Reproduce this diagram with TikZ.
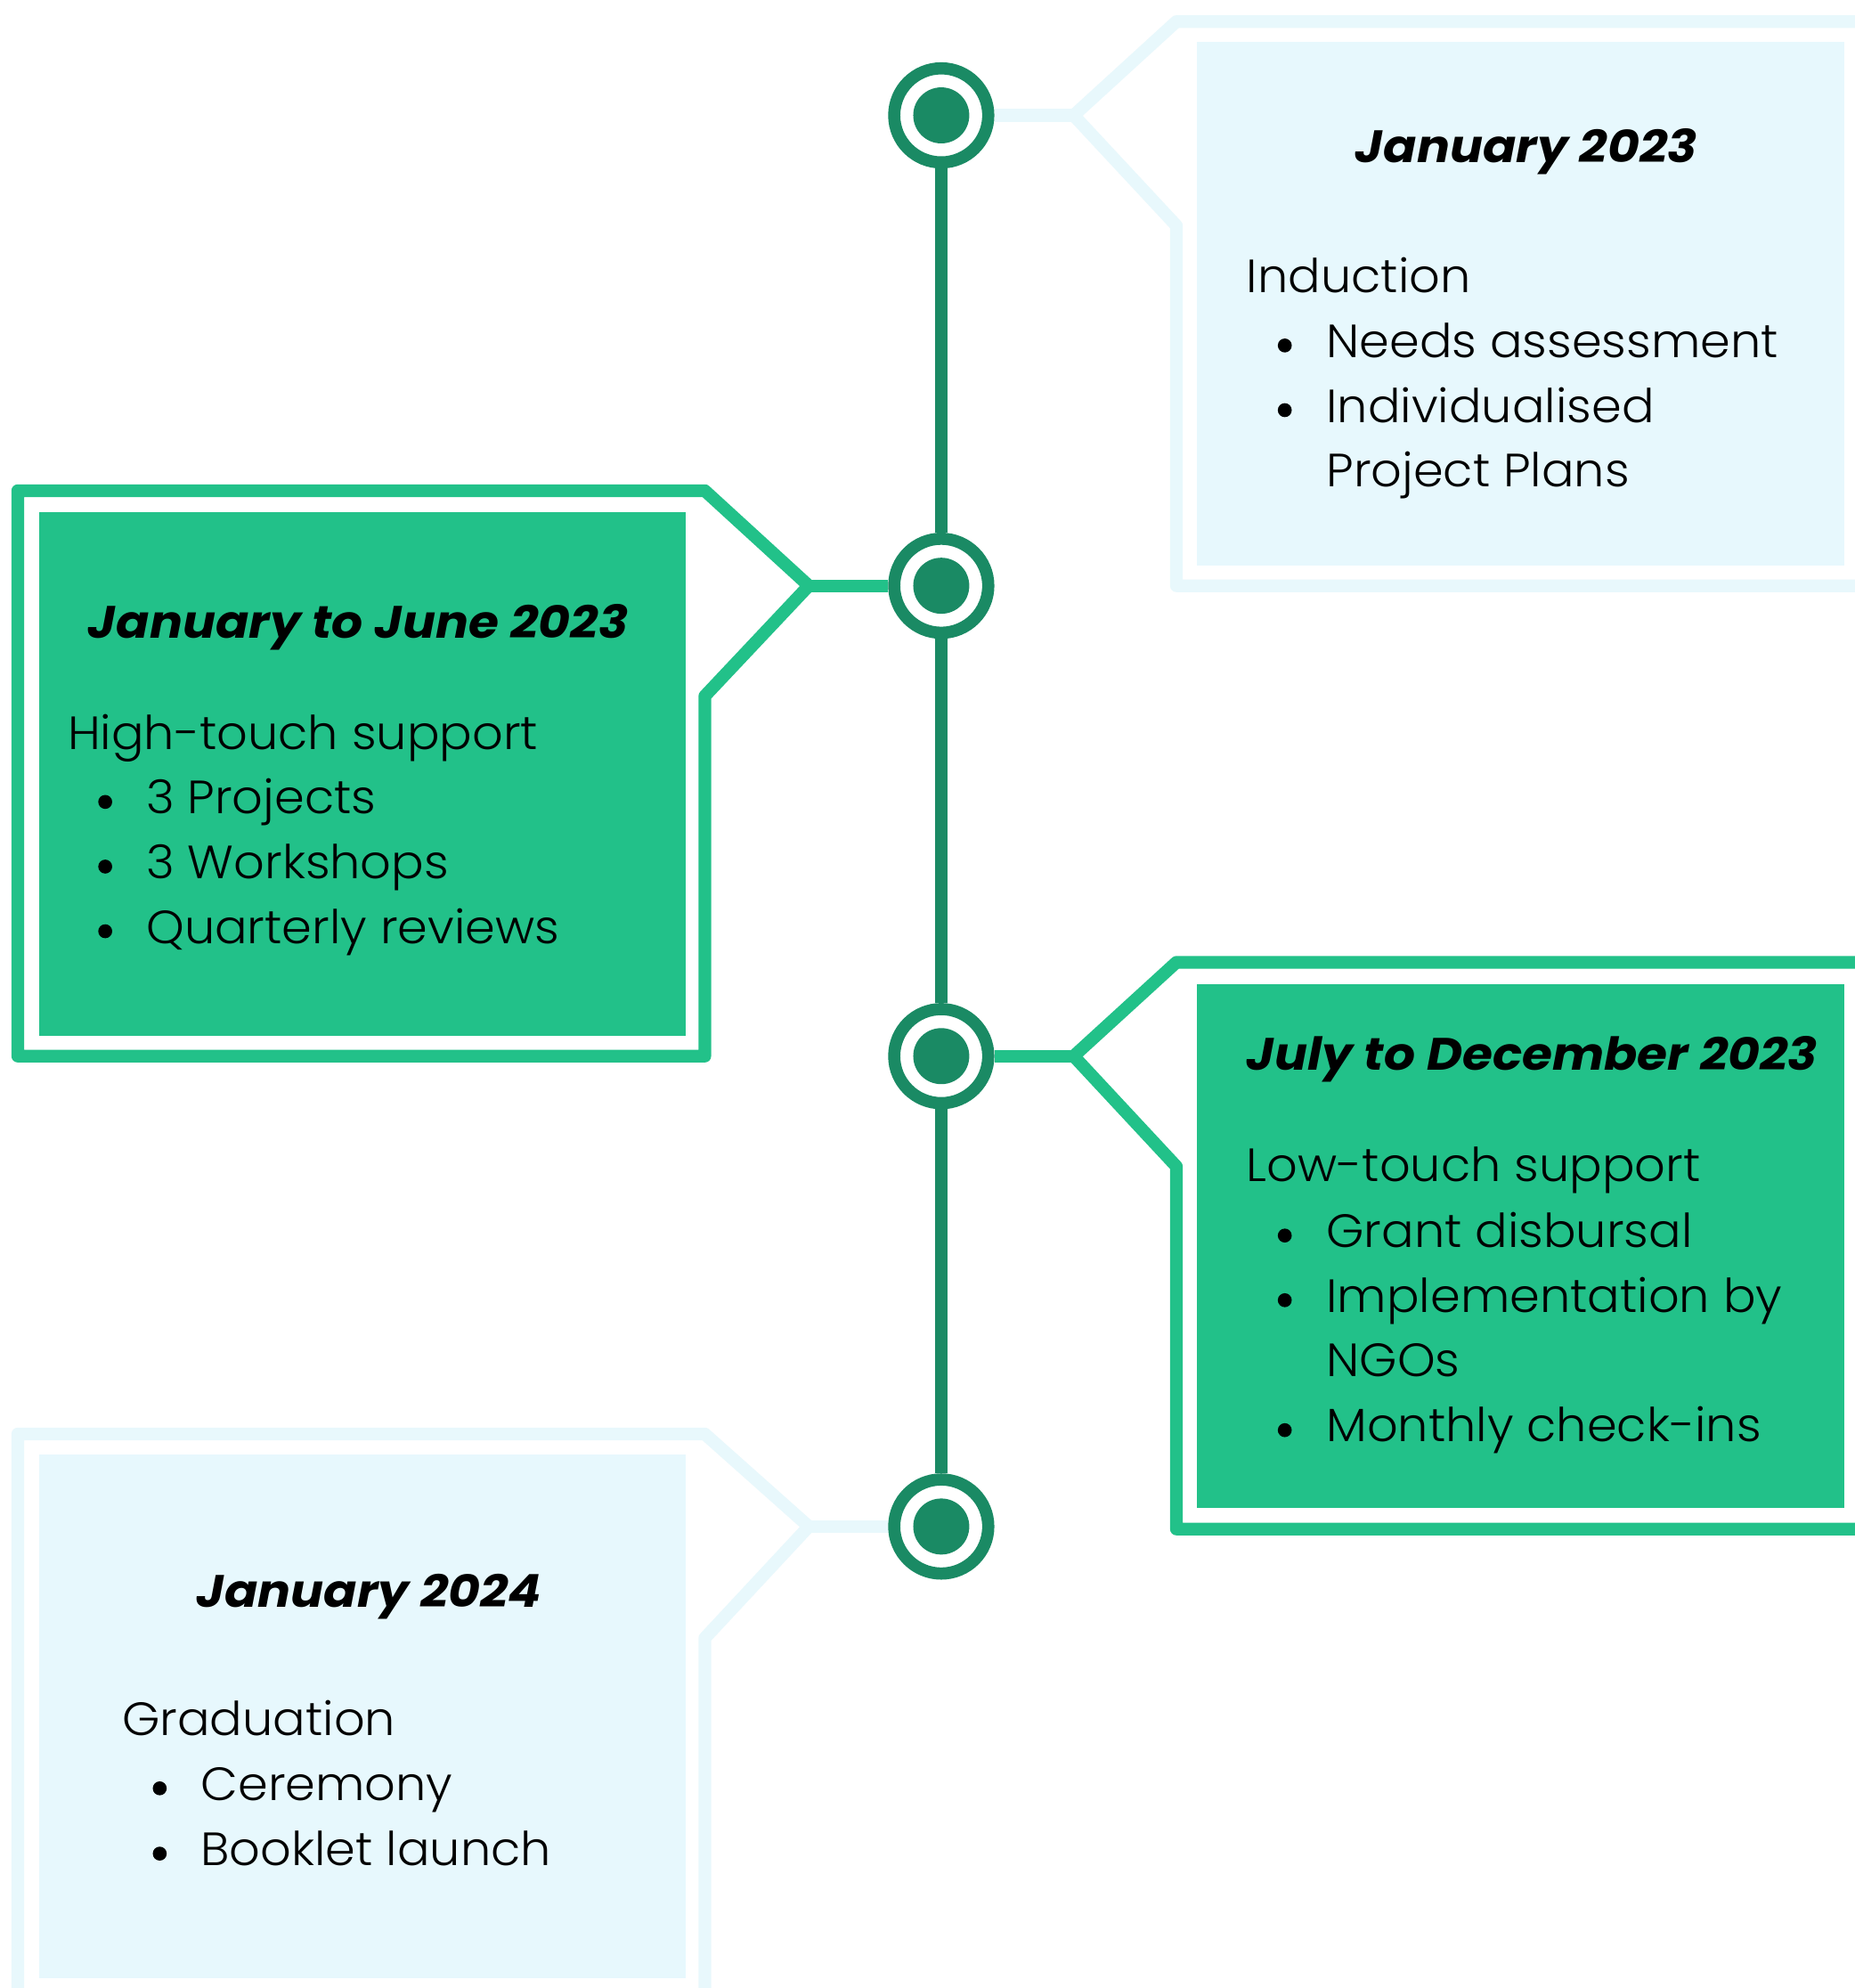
\documentclass[tikz,border=0pt]{standalone}
\usepackage{fontspec}
\setmainfont{Poppins}[BoldItalicFeatures={FakeStretch=1.08}]
\newfontfamily\bodyfont{Poppins Light}[FakeStretch=1.035]
\definecolor{dk}{RGB}{26,138,100}
\definecolor{gr}{RGB}{34,193,137}
\definecolor{lb}{RGB}{231,248,253}
\definecolor{lbf}{RGB}{232,248,252}
\pgfdeclarelayer{bg}
\pgfsetlayers{bg,main}
\tikzset{
  ring/.style={circle, draw=dk, fill=white, line width=4.8pt, minimum size=37.1pt, inner sep=0},
  dot/.style={circle, fill=dk, minimum size=22.1pt, inner sep=0},
  frame/.style={line width=5pt, line join=round},
  spine/.style={draw=dk, line width=4.8pt},
  ttl/.style={anchor=base, inner sep=0, font=\fontsize{17.9}{21}\selectfont\bfseries\itshape},
  txt/.style={anchor=base west, inner sep=0, font=\bodyfont\fontsize{18.4}{22}\selectfont},
  bul/.style={fill=black}
}
\begin{document}
\begin{tikzpicture}[x=0.5pt,y=-0.5pt]
\useasboundingbox (0,0) rectangle (1463,1568);
\clip (0,0) rectangle (1463,1568);
% milestones
\foreach \n/\y in {1/91,2/462,3/833,4/1204}{
  \node[ring] (c\n) at (742.5,\y) {};
  \node[dot] (d\n) at (742.5,\y) {};
}
\coordinate (p1) at (847,91);
\coordinate (p2) at (638,462);
\coordinate (p3) at (847,833);
\coordinate (p4) at (638,1204);

\begin{pgfonlayer}{bg}
\fill[white] (0,0) rectangle (1463,1568);
% box 1
\fill[lb] (944,33) rectangle (1455,446);
\draw[frame,draw=lbf] (1500,17) -- (928,17) -- (p1) -- (928,178) -- (928,462) -- (1500,462);
\draw[frame,draw=lbf] (c1) -- (p1);
% box 2
\fill[gr] (31,404) rectangle (541,817);
\draw[frame,draw=gr] (556,387) -- (14,387) -- (14,833) -- (556,833) -- (556,549) -- (p2) -- cycle;
\draw[frame,draw=gr] (c2) -- (p2);
% box 3
\fill[gr] (944,776) rectangle (1455,1189);
\draw[frame,draw=gr] (1500,759) -- (928,759) -- (p3) -- (928,920) -- (928,1206) -- (1500,1206);
\draw[frame,draw=gr] (c3) -- (p3);
% box 4
\fill[lb] (31,1147) rectangle (541,1560);
\draw[frame,draw=lbf] (14,1600) -- (14,1131) -- (556,1131) -- (p4) -- (556,1292) -- (556,1600);
\draw[frame,draw=lbf] (c4) -- (p4);
% spine
\draw[spine] (c1) -- (c2) -- (c3) -- (c4);
\end{pgfonlayer}

% box 1 text
\node[ttl] (t1) at (1204,128) {January 2023};
\node[txt] (t1a) at (983,231) {Induction};
\node[txt] (t1b) at (1046,282) {Needs assessment};
\node[txt] (t1c) at (1046,333) {Individualised};
\node[txt] (t1d) at (1046,384) {Project Plans};
\fill[bul] (1013.5,272.5) circle[radius=5.5];
\fill[bul] (1013.5,323.5) circle[radius=5.5];
% box 2 text
\node[ttl] (t2) at (282.5,503) {January to June 2023};
\node[txt] (t2a) at (53,591) {High-touch support};
\node[txt] (t2b) at (115,642) {3 Projects};
\node[txt] (t2c) at (115,693) {3 Workshops};
\node[txt] (t2d) at (115,744) {Quarterly reviews};
\fill[bul] (83,632.5) circle[radius=5.5];
\fill[bul] (83,683.5) circle[radius=5.5];
\fill[bul] (83,734.5) circle[radius=5.5];
% box 3 text
\node[ttl] (t3) at (1208.5,844) {July to December 2023};
\node[txt] (t3a) at (983,932) {Low-touch support};
\node[txt] (t3b) at (1046,984) {Grant disbursal};
\node[txt] (t3c) at (1046,1035) {Implementation by};
\node[txt] (t3d) at (1046,1086) {NGOs};
\node[txt] (t3e) at (1046,1137) {Monthly check-ins};
\fill[bul] (1013.5,974.5) circle[radius=5.5];
\fill[bul] (1013.5,1025.5) circle[radius=5.5];
\fill[bul] (1013.5,1128) circle[radius=5.5];
% box 4 text
\node[ttl] (t4) at (291,1267.5) {January 2024};
\node[txt] (t4a) at (96,1369) {Graduation};
\node[txt] (t4b) at (158,1420) {Ceremony};
\node[txt] (t4c) at (158,1471.5) {Booklet launch};
\fill[bul] (126,1410.5) circle[radius=5.5];
\fill[bul] (126,1462) circle[radius=5.5];
\end{tikzpicture}
\end{document}
